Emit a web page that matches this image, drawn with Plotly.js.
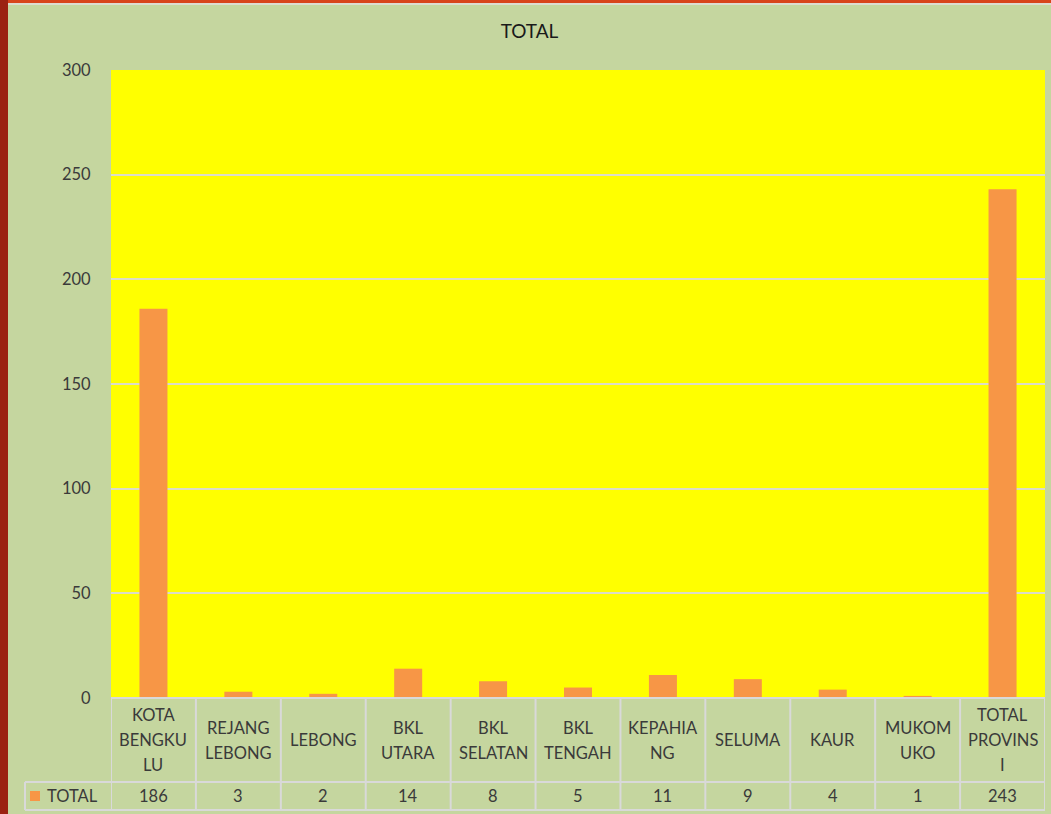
<!DOCTYPE html>
<html>
<head>
<meta charset="utf-8">
<script src="https://cdn.plot.ly/plotly-3.0.1.min.js"></script>
<style>
  html, body { margin: 0; padding: 0; width: 1051px; height: 814px; overflow: hidden; background: #9b2212; }
  #topline { position: absolute; left: 8px; top: 0; width: 1043px; height: 3px; background: #d8441a; }
  #topline2 { position: absolute; left: 8px; top: 3px; width: 1043px; height: 2px; background: #dcdcd0; }
  #chart { position: absolute; left: 8px; top: 5px; width: 1043px; height: 809px; }
</style>
</head>
<body>
<div id="topline"></div>
<div id="topline2"></div>
<div id="chart"></div>
<script>
const categories = ["KOTA BENGKULU", "REJANG LEBONG", "LEBONG", "BKL UTARA", "BKL SELATAN", "BKL TENGAH", "KEPAHIANG", "SELUMA", "KAUR", "MUKOMUKO", "TOTAL PROVINSI"];
const tickLabels = [["KOTA", "BENGKU", "LU"], ["REJANG", "LEBONG"], ["LEBONG"], ["BKL", "UTARA"], ["BKL", "SELATAN"], ["BKL", "TENGAH"], ["KEPAHIA", "NG"], ["SELUMA"], ["KAUR"], ["MUKOM", "UKO"], ["TOTAL", "PROVINS", "I"]];
const totals = [186, 3, 2, 14, 8, 5, 11, 9, 4, 1, 243];
const seriesName = "TOTAL";
const yTicks = [0, 50, 100, 150, 200, 250, 300];

const textColor = "#3a3a3a";
const lineColor = "#d9d9d9";
const font = "Lato, 'Open Sans', sans-serif";
const fs = 16.5;

// paper geometry (plot area 934 x 628 px)
const pw = 934, ph = 628;
const py = px => -px / ph;
const pxX = px => px / pw;

const shapes = [];
const n = categories.length;
shapes.push({type: "line", xref: "paper", yref: "paper", x0: 0, x1: 1, y0: 0, y1: 0, line: {color: lineColor, width: 2}});
[84, 112].forEach(d => shapes.push({type: "line", xref: "paper", yref: "paper", x0: pxX(-86), x1: 1, y0: py(d), y1: py(d), line: {color: lineColor, width: 2}}));
for (let i = 0; i <= n; i++) {
  shapes.push({type: "line", xref: "x", yref: "paper", x0: i - 0.5, x1: i - 0.5, y0: 0, y1: py(112), line: {color: lineColor, width: 2}});
}
shapes.push({type: "line", xref: "paper", yref: "paper", x0: pxX(-86), x1: pxX(-86), y0: py(84), y1: py(112), line: {color: lineColor, width: 2}});
shapes.push({type: "rect", xref: "paper", yref: "paper", x0: pxX(-81), x1: pxX(-71), y0: py(93), y1: py(103), fillcolor: "#f79646", line: {width: 0}});

const annotations = [];
const lineStep = 25;
categories.forEach((c, i) => {
  const lines = tickLabels[i];
  lines.forEach((t, k) => {
    const off = 42 + (k - (lines.length - 1) / 2) * lineStep;
    annotations.push({xref: "x", yref: "paper", x: c, y: py(off), text: t, showarrow: false, xanchor: "center", yanchor: "middle", font: {family: font, size: fs, color: textColor}});
  });
  annotations.push({xref: "x", yref: "paper", x: c, y: py(98), text: String(totals[i]), showarrow: false, xanchor: "center", yanchor: "middle", font: {family: font, size: fs, color: textColor}});
});
annotations.push({xref: "paper", yref: "paper", x: pxX(-66), y: py(98), text: seriesName, showarrow: false, xanchor: "left", yanchor: "middle", font: {family: font, size: fs, color: textColor}});

const data = [{
  type: "bar",
  x: categories,
  y: totals,
  name: seriesName,
  marker: {color: "#f79646"},
  hoverinfo: "x+y"
}];

const layout = {
  width: 1043,
  height: 809,
  margin: {l: 103, r: 6, t: 65, b: 116},
  paper_bgcolor: "#c5d69f",
  plot_bgcolor: "#ffff00",
  showlegend: false,
  bargap: 0.67,
  title: {text: "TOTAL", x: 0.5, xref: "container", y: 1 - 26 / 809, yref: "container", yanchor: "middle", xanchor: "center", font: {family: font, size: 19, color: "#1a1a1a"}},
  xaxis: {
    type: "category",
    showticklabels: false,
    showgrid: false,
    zeroline: false,
    showline: false,
    ticks: "",
    range: [-0.5, n - 0.5]
  },
  yaxis: {
    range: [0, 300],
    tickvals: yTicks,
    ticktext: yTicks.map(String),
    showgrid: true,
    gridcolor: "#dcdcc8",
    gridwidth: 2,
    zeroline: false,
    showline: false,
    ticks: "outside",
    ticklen: 16,
    tickcolor: "rgba(0,0,0,0)",
    tickfont: {family: font, size: fs, color: textColor}
  },
  shapes: shapes,
  annotations: annotations
};

Plotly.newPlot("chart", data, layout, {displayModeBar: false, staticPlot: true});
</script>
</body>
</html>
